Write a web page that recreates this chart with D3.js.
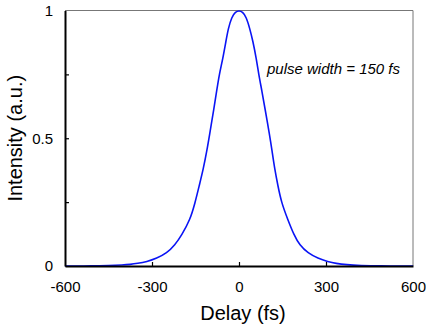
<!DOCTYPE html>
<html>
<head>
<meta charset="utf-8">
<script src="https://cdn.jsdelivr.net/npm/d3@7"></script>
<style>
  body { margin: 0; background: #fff; }
  text { font-family: Arial, "Liberation Sans", sans-serif; }
</style>
</head>
<body>
<div id="chart"></div>
<script>
// autocorrelation trace
const delay = [-600, -500, -450, -400, -376, -350, -318, -284, -249, -221, -198, -169, -152, -137, -123,
  -111, -102, -86, -77, -68, -56, -45, -37, -25, -12, 0, 12, 25, 37, 48, 60, 68, 79, 89, 106, 114,
  123, 134, 146, 167, 190, 209, 238, 272, 307, 334, 370, 420, 480, 600];
const intensity = [0, 0, 0.002, 0.004, 0.006, 0.01, 0.017, 0.03, 0.05, 0.082, 0.12, 0.18, 0.245, 0.315, 0.38,
  0.45, 0.51, 0.62, 0.685, 0.75, 0.81, 0.88, 0.93, 0.975, 0.995, 1.0, 0.995, 0.975, 0.93, 0.88, 0.81, 0.75, 0.685,
  0.62, 0.51, 0.45, 0.38, 0.315, 0.25, 0.185, 0.12, 0.082, 0.05, 0.03, 0.017, 0.01, 0.005, 0.002, 0, 0];

const xTicks = [-600, -300, 0, 300, 600];
const yTicks = [0, 0.5, 1];
const yMinor = [0.25, 0.75];
const note = "pulse width = 150 fs";

const width = 426, height = 326;
const m = { left: 65, right: 413, top: 10.5, bottom: 266 };

const svg = d3.select("#chart").append("svg")
    .attr("width", width)
    .attr("height", height);

const x = d3.scaleLinear().domain([-600, 600]).range([m.left, m.right]);
const y = d3.scaleLinear().domain([0, 1]).range([m.bottom, m.top]);

// frame: thin grey top/right
svg.append("path")
    .attr("d", `M${m.left},${m.top}H${m.right}V${m.bottom}`)
    .attr("fill", "none")
    .attr("stroke", "#777")
    .attr("stroke-width", 1);

// curve
const line = d3.line()
    .x((d, i) => x(delay[i]))
    .y(d => y(d))
    .curve(d3.curveBasis);

svg.append("path")
    .datum(intensity)
    .attr("d", line)
    .attr("fill", "none")
    .attr("stroke", "#0a14f5")
    .attr("stroke-width", 1.6);

// axes
const xAxis = d3.axisBottom(x).tickValues(xTicks).tickFormat(d => String(d))
    .tickSizeInner(-4).tickSizeOuter(0).tickPadding(15);
const gx = svg.append("g").attr("transform", `translate(0,${m.bottom})`).call(xAxis);

const yAxis = d3.axisLeft(y).tickValues(yTicks.concat(yMinor))
    .tickFormat(d => yTicks.includes(d) ? String(d) : "")
    .tickSizeInner(-4).tickSizeOuter(0).tickPadding(12);
const gy = svg.append("g").attr("transform", `translate(${m.left},0)`).call(yAxis);

[gx, gy].forEach(g => {
  g.select(".domain").attr("stroke", "#000").attr("stroke-width", 2);
  g.selectAll(".tick line").attr("stroke", "#000").attr("stroke-width", 1.2);
  g.selectAll(".tick text").attr("font-size", 15).attr("fill", "#000")
    .style("font-family", "Arial, 'Liberation Sans', sans-serif");
});
// hide ticks that sit on the frame
gx.selectAll(".tick line").filter(d => d === -600 || d === 600).remove();
gy.selectAll(".tick line").filter(d => d === 0 || d === 1).remove();

svg.append("text")
    .attr("x", 243)
    .attr("y", 320)
    .attr("text-anchor", "middle")
    .attr("font-size", 20)
    .text("Delay (fs)");

svg.append("text")
    .attr("transform", `translate(22,${(m.top + m.bottom) / 2}) rotate(-90)`)
    .attr("text-anchor", "middle")
    .attr("font-size", 20)
    .text("Intensity (a.u.)");

svg.append("text")
    .attr("x", 267)
    .attr("y", 74)
    .attr("font-size", 15)
    .attr("font-style", "italic")
    .text(note);
</script>
</body>
</html>
